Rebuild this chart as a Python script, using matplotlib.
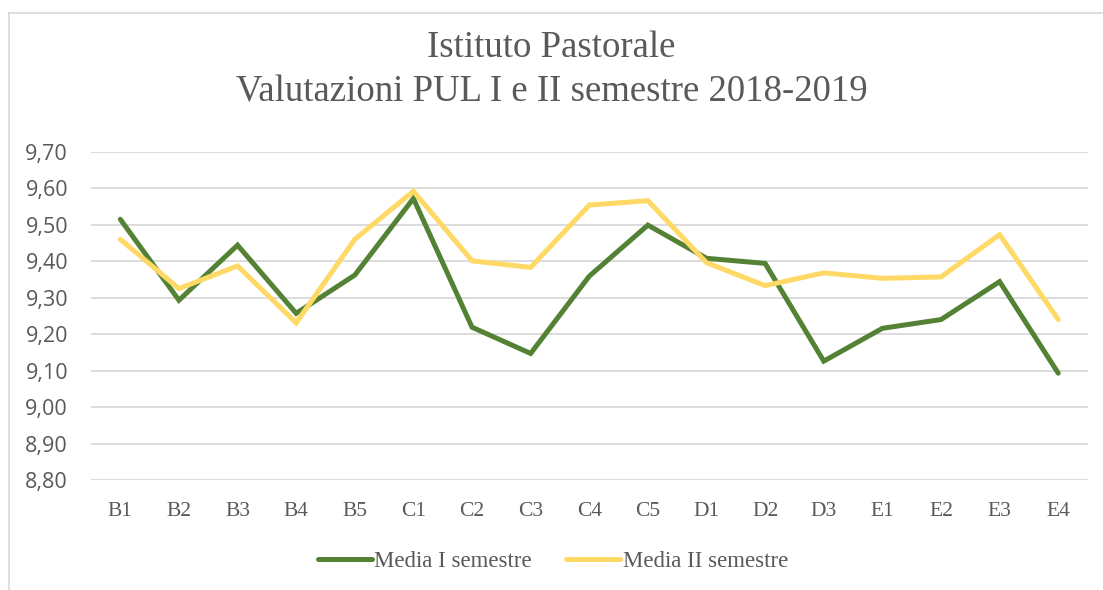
import matplotlib.pyplot as plt
from matplotlib.lines import Line2D
from matplotlib.ticker import FuncFormatter

categories = ['B1', 'B2', 'B3', 'B4', 'B5', 'C1', 'C2', 'C3', 'C4', 'C5',
              'D1', 'D2', 'D3', 'E1', 'E2', 'E3', 'E4']
media_1 = [9.515, 9.293, 9.444, 9.257, 9.362, 9.572, 9.219, 9.147, 9.359, 9.499,
           9.408, 9.394, 9.126, 9.216, 9.240, 9.344, 9.093]
media_2 = [9.460, 9.325, 9.387, 9.231, 9.460, 9.592, 9.401, 9.383, 9.554, 9.566,
           9.396, 9.333, 9.368, 9.353, 9.357, 9.473, 9.240]

text_col = '#595959'
serif = 'Liberation Serif'

fig = plt.figure(figsize=(11.03, 5.9), dpi=100)
ax = fig.add_axes([0.0825, 0.1864, 0.9035, 0.5563])

x = range(len(categories))
ax.plot(x, media_1, color='#548235', lw=3.6, solid_capstyle='round',
        solid_joinstyle='miter', label='Media I semestre', zorder=3)
ax.plot(x, media_2, color='#FFD966', lw=3.6, solid_capstyle='round',
        solid_joinstyle='miter', label='Media II semestre', zorder=3)

ax.set_xlim(-0.5, len(categories) - 0.5)
ax.set_ylim(8.8, 9.7)
ax.set_yticks([8.8 + 0.1 * i for i in range(10)])
ax.yaxis.set_major_formatter(FuncFormatter(lambda v, p: f'{v:.2f}'.replace('.', ',')))
ax.set_xticks(list(x))
ax.set_xticklabels(categories, fontfamily=serif, fontsize=15.5, color=text_col)
for lbl in ax.get_yticklabels():
    lbl.set_fontfamily('Open Sans')
    lbl.set_fontsize(15.5)
    lbl.set_color(text_col)

ax.grid(axis='y', color='#d9d9d9', lw=1.3)
ax.set_axisbelow(True)
for s in ax.spines.values():
    s.set_visible(False)
ax.tick_params(length=0)
ax.tick_params(axis='y', pad=16.5)
ax.tick_params(axis='x', pad=16)

fig.text(0.5, 0.9186, 'Istituto Pastorale', ha='center', va='center',
         fontfamily=serif, fontsize=26.5, color=text_col)
fig.text(0.5, 0.844, 'Valutazioni PUL I e II semestre 2018-2019', ha='center', va='center',
         fontfamily=serif, fontsize=26.5, color=text_col)

leg = fig.legend(loc='center', bbox_to_anchor=(0.5014, 0.048), ncol=2, frameon=False,
                 prop={'family': serif, 'size': 16.5}, handlelength=2.35,
                 handletextpad=0.1, columnspacing=1.5)
for t in leg.get_texts():
    t.set_color(text_col)

# light border of the chart area
fig.add_artist(Line2D([8.5 / 1103, 1], [1 - 12.5 / 590, 1 - 12.5 / 590],
                      color='#d9d9d9', lw=1.2, transform=fig.transFigure))
fig.add_artist(Line2D([8.5 / 1103, 8.5 / 1103], [0, 1 - 12.5 / 590],
                      color='#d9d9d9', lw=1.2, transform=fig.transFigure))

fig.savefig('out.png', dpi=100)
